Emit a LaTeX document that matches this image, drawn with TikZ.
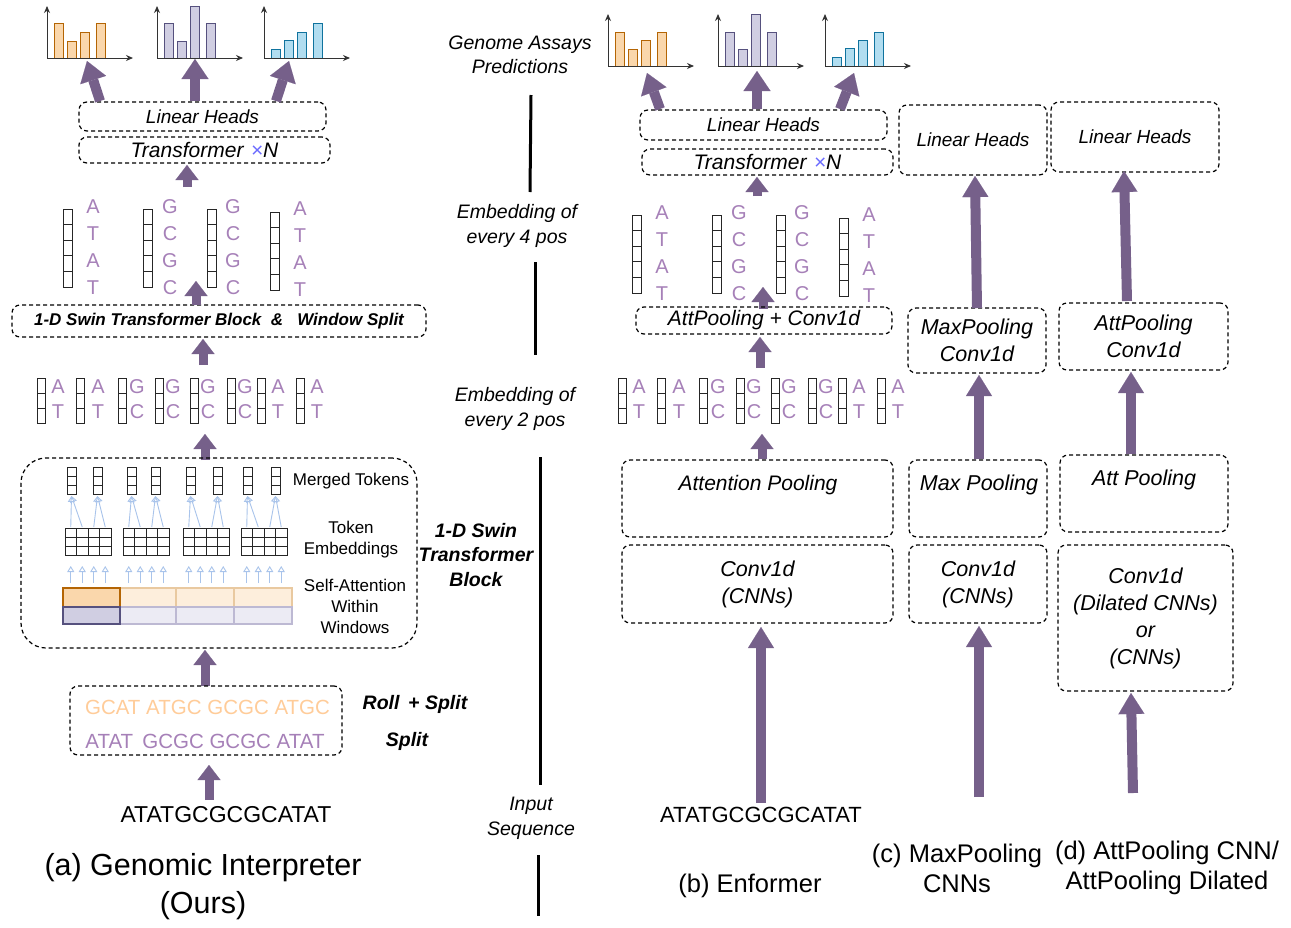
\documentclass[tikz,border=0pt]{standalone}
\usepackage{fontspec}
\setmainfont{Liberation Sans}
\usetikzlibrary{arrows.meta,calc}
\definecolor{ap}{HTML}{76608A}
\definecolor{dna}{HTML}{A680B8}
\definecolor{orf}{HTML}{FAD7AC}
\definecolor{ors}{HTML}{B46504}
\definecolor{orfl}{HTML}{FDEEDC}
\definecolor{orsl}{HTML}{E9C9A0}
\definecolor{puf}{HTML}{D0CEE2}
\definecolor{pus}{HTML}{56517E}
\definecolor{pufl}{HTML}{ECEBF4}
\definecolor{pusl}{HTML}{BDB9D3}
\definecolor{blf}{HTML}{B1DDF0}
\definecolor{bls}{HTML}{10739E}
\definecolor{lblue}{HTML}{A9C4EB}
\definecolor{xblue}{HTML}{6C6CFF}
\definecolor{rollc}{HTML}{FFCC99}
\definecolor{axc}{HTML}{333333}
\newcommand\fz[2]{\fontsize{#1}{#2}\selectfont}
\tikzset{
 dbox/.style={draw=black, dash pattern=on 4pt off 3pt, line width=1.2pt, rounded corners=8pt, inner sep=0pt, align=center},
 fatT/.style={draw=ap, line width=10pt, -{Triangle[width=27pt,length=20pt,line width=0.1pt]}},
 fatS/.style={draw=ap, line width=9pt, -{Triangle[width=23pt,length=15pt,line width=0.1pt]}},
 fatL/.style={draw=ap, line width=10pt, -{Triangle[width=26pt,length=21pt,line width=0.1pt]}},
 axisl/.style={draw=axc, line width=1pt, -{Stealth[length=7pt,width=6pt]}},
 cellc/.style={draw=black!85, line width=0.9pt},
 lb/.style={draw=lblue, line width=0.9pt, -{Triangle[open,width=7pt,length=6pt]}},
 vline/.style={draw=black, line width=3pt},
 dnat/.style={text=dna, font=\fz{20}{20}, inner sep=0pt},
 lbl/.style={align=center, inner sep=0pt},
}
\newcommand\gchart[7]{%
  \begin{scope}[shift={(#1)}]
    \foreach \bx/\bh in {7/#4,20/#5,33/#6,49/#7}
      \draw[fill=#2,draw=#3,line width=1pt] (\bx,0) rectangle ++(9,-\bh);
    \draw[axisl] (0,0) -- (0,-52);
    \draw[axisl] (0,0) -- (86,0);
  \end{scope}}
\newcommand\cellcol[5]{%
  \foreach \k in {1,...,#5}
    \draw[cellc] (#1,{#2+(\k-1)*#4}) rectangle ++(#3,#4);}
\newcommand\embfour[2]{%
 \begin{scope}[shift={(#1)}]
  \cellcol{63}{209}{9}{15.6}{5}
  \cellcol{143}{209}{9}{15.6}{5}
  \cellcol{207}{209}{9}{15.6}{5}
  \cellcol{270}{212}{9}{15.6}{5}
  \foreach \ch [count=\i from 0] in {A,T,A,T}{
    \node[dnat] (#2a\i) at (93,{206.5+26.9*\i}) {\ch};
    \node[dnat] (#2d\i) at (300,{208.5+26.9*\i}) {\ch};}
  \foreach \ch [count=\i from 0] in {G,C,G,C}{
    \node[dnat] (#2b\i) at (170,{206.5+26.9*\i}) {\ch};
    \node[dnat] (#2c\i) at (233,{206.5+26.9*\i}) {\ch};}
 \end{scope}}
\newcommand\embtwo[2]{%
 \begin{scope}[shift={(#1)}]
  \foreach \cx/\lx/\ltop/\lbot [count=\i] in {37/58/A/T,76/98/A/T,118/137/G/C,155/173/G/C,190/208/G/C,227/245/G/C,257/278/A/T,296/317/A/T}{
    \cellcol{\cx}{378}{8}{15}{3}
    \node[dnat] (#2u\i) at (\lx,387) {\ltop};
    \node[dnat] (#2l\i) at (\lx,412) {\lbot};}
 \end{scope}}

\begin{document}
\begin{tikzpicture}[x=1pt,y=-1pt]
\useasboundingbox (0,0) rectangle (1291,927);
\fill[white] (0,0) rectangle (1291,927);

% ================= (a) Genomic Interpreter
\gchart{47,58}{orf}{ors}{35}{17}{26}{35}
\gchart{157,58}{puf}{pus}{35}{17}{52}{35}
\gchart{264,58}{blf}{bls}{9}{18}{26}{35}
\node[dbox,minimum width=247,minimum height=29] (lhA) at (202.5,116.5) {\fz{19}{19}\itshape Linear Heads};
\node[dbox,minimum width=251,minimum height=26] (trA) at (204.5,150) {\fz{21}{21}\itshape Transformer\hspace{0.35em}\textcolor{xblue}{×}N};
\coordinate (a1s) at (100,101); \coordinate (a1e) at (87,61);
\coordinate (a2s) at (195,101); \coordinate (a2e) at (195,59);
\coordinate (a3s) at (276,101); \coordinate (a3e) at (289,61);
\draw[fatT] (a1s) -- (a1e);
\draw[fatT] (a2s) -- (a2e);
\draw[fatT] (a3s) -- (a3e);
\coordinate (a4s) at (187,187); \coordinate (a4e) at (187,165);
\draw[fatS] (a4s) -- (a4e);

\embfour{0,0}{A}
\node[dbox,minimum width=414,minimum height=32] (swA) at (219,321) {\fz{17}{17}\bfseries\itshape 1-D Swin Transformer Block \ \& \ \ Window Split};
\coordinate (a5s) at (196,305); \coordinate (a5e) at (196,281);
\draw[fatS] (a5s) -- (a5e);
\coordinate (a6s) at (203,365); \coordinate (a6e) at (203,339);
\draw[fatS] (a6s) -- (a6e);
\embtwo{0,0}{A}
\coordinate (a7s) at (205,460); \coordinate (a7e) at (205,434);
\draw[fatS] (a7s) -- (a7e);

% big swin block
\node[dbox,rounded corners=25pt,minimum width=396,minimum height=190] (bigA) at (219,553) {};
\foreach \mx in {67,93,127,151,186,213,243,271} {\cellcol{\mx}{467}{9}{9}{3}}
\node[lbl,font=\fz{17}{17}] (mtok) at (351,481) {Merged Tokens};
\foreach \gx in {65,123,183,241}{
  \foreach \j in {0,...,3}{
    \cellcol{\gx+11.5*\j}{528}{11.5}{9}{3}
    \draw[lb] (\gx+11.5*\j+5.75,583) -- (\gx+11.5*\j+5.75,566);}}
\foreach \gx/\ma/\mb in {65/67/93,123/127/151,183/186/213,241/243/271}{
  \draw[lb] (\gx+5.75,527) -- (\ma+4.5,496);
  \draw[lb] (\gx+17.25,527) -- (\ma+4.5,496);
  \draw[lb] (\gx+28.75,527) -- (\mb+4.5,496);
  \draw[lb] (\gx+40.25,527) -- (\mb+4.5,496);}
\node[lbl,font=\fz{17}{21}] (temb) at (351,540) {Token\\Embeddings};
\foreach \wx/\wr in {120/176,176/234,234/292}{
  \draw[fill=orfl,draw=orsl,line width=1.8pt] (\wx,588) rectangle (\wr,607);
  \draw[fill=pufl,draw=pusl,line width=1.8pt] (\wx,607) rectangle (\wr,624);}
\draw[fill=orf,draw=ors,line width=2pt] (63,588) rectangle (120,607);
\draw[fill=puf,draw=pus,line width=2pt] (63,607) rectangle (120,624);
\node[lbl,font=\fz{17}{21}] (sattn) at (355,606) {Self-Attention\\Within\\Windows};

\coordinate (a8s) at (205,686); \coordinate (a8e) at (205,650);
\draw[fatS] (a8s) -- (a8e);
\node[dbox,minimum width=272,minimum height=69] (rsA) at (206,720.5) {};
\node[lbl,text=rollc,font=\fz{20.5}{20.5}] (rollrow) at (207.5,707) {GCAT ATGC GCGC ATGC};
\node[lbl,text=dna,font=\fz{20.5}{20.5}] (splitrow) at (205,741) {ATAT\, GCGC GCGC ATAT};
\node[lbl,font=\fz{19.5}{19.5}\bfseries\itshape] (rolllab) at (415,704) {Roll\,\ + Split};
\node[lbl,font=\fz{19.5}{19.5}\bfseries\itshape] (splitlab) at (407,741) {Split};
\coordinate (a9s) at (209,800); \coordinate (a9e) at (209,765);
\draw[fatS] (a9s) -- (a9e);
\node[lbl,font=\fz{23}{23}] (seqA) at (226,815) {ATATGCGCGCATAT};
\node[lbl,font=\fz{30.5}{38}] (capA) at (203,887) {(a) Genomic Interpreter\\(Ours)};

% ================= middle labels
\node[lbl,font=\fz{19.5}{24}\itshape] (gap) at (520,55) {Genome Assays\\Predictions};
\node[lbl,font=\fz{19.5}{25}\itshape] (emb4) at (517,226) {Embedding of\\every 4 pos};
\node[lbl,font=\fz{19.5}{25}\itshape] (emb2) at (515,409) {Embedding of\\every 2 pos};
\node[lbl,font=\fz{19.5}{25}\itshape] (inseq) at (531,818) {Input\\Sequence};
\coordinate (v1a) at (531,95); \coordinate (v1b) at (530,192);
\coordinate (v2a) at (535,262); \coordinate (v2b) at (535,355);
\coordinate (v3a) at (540,457); \coordinate (v3b) at (540,785);
\coordinate (v4a) at (538,855); \coordinate (v4b) at (538,916);
\draw[vline] (v1a) -- (v1b);
\draw[vline] (v2a) -- (v2b);
\draw[vline] (v3a) -- (v3b);
\draw[vline] (v4a) -- (v4b);
\node[lbl,font=\fz{19.5}{24.5}\bfseries\itshape] (swlab) at (476,555) {1-D Swin\\Transformer\\Block};

% ================= (b) Enformer
\gchart{608,66}{orf}{ors}{34}{17}{26}{34}
\gchart{718,66}{puf}{pus}{34}{17}{52}{34}
\gchart{825,66}{blf}{bls}{9}{18}{26}{34}
\node[dbox,minimum width=247,minimum height=30] (lhB) at (763.5,125) {\fz{19}{19}\itshape Linear Heads};
\node[dbox,minimum width=251,minimum height=26] (trB) at (767.5,162) {\fz{21}{21}\itshape Transformer\hspace{0.35em}\textcolor{xblue}{×}N};
\coordinate (b1s) at (660,109); \coordinate (b1e) at (647,73);
\coordinate (b2s) at (757,109); \coordinate (b2e) at (757,71);
\coordinate (b3s) at (840,109); \coordinate (b3e) at (854,73);
\draw[fatT] (b1s) -- (b1e);
\draw[fatT] (b2s) -- (b2e);
\draw[fatT] (b3s) -- (b3e);
\coordinate (b4s) at (757,196); \coordinate (b4e) at (757,177);
\draw[fatS] (b4s) -- (b4e);
\embfour{569,6}{B}
\coordinate (b5s) at (763,309); \coordinate (b5e) at (763,287);
\draw[fatS] (b5s) -- (b5e);
\node[dbox,minimum width=256,minimum height=27] (apB) at (764,320.5) {\fz{21}{21}\itshape AttPooling + Conv1d};
\coordinate (b6s) at (760,368); \coordinate (b6e) at (760,337);
\draw[fatS] (b6s) -- (b6e);
\embtwo{581,0}{B}
\coordinate (b7s) at (762,459); \coordinate (b7e) at (762,434);
\draw[fatS] (b7s) -- (b7e);
\node[dbox,minimum width=271,minimum height=77] (attB) at (757.5,498.5) {};
\node[lbl,font=\fz{21}{21}\itshape] (attBt) at (758,485) {Attention Pooling};
\node[dbox,minimum width=271,minimum height=78,font=\fz{21.5}{27}\itshape] (convB) at (757.5,584) {Conv1d\\(CNNs)};
\coordinate (b8s) at (761,803); \coordinate (b8e) at (761,627);
\draw[fatL] (b8s) -- (b8e);
\node[lbl,font=\fz{22}{22}] (seqB) at (761,815) {ATATGCGCGCATAT};
\node[lbl,font=\fz{25.5}{30}] (capB) at (750,886) {(b) Enformer};

% ================= (c) MaxPooling CNNs
\node[dbox,minimum width=148,minimum height=70] (lhC) at (973,140) {\fz{19}{19}\itshape Linear Heads};
\node[dbox,minimum width=138,minimum height=65,font=\fz{21.5}{27}\itshape] (mpcC) at (977,340.5) {MaxPooling\\Conv1d};
\coordinate (c1s) at (977,308); \coordinate (c1e) at (975,176);
\draw[fatL] (c1s) -- (c1e);
\coordinate (c2s) at (979,459); \coordinate (c2e) at (979,375);
\draw[fatL] (c2s) -- (c2e);
\node[dbox,minimum width=138,minimum height=77] (mpC) at (978,498.5) {};
\node[lbl,font=\fz{21.5}{21.5}\itshape] (mpCt) at (979,485) {Max Pooling};
\node[dbox,minimum width=138,minimum height=78,font=\fz{21.5}{27}\itshape] (convC) at (978,584) {Conv1d\\(CNNs)};
\coordinate (c3s) at (979,797); \coordinate (c3e) at (979,626);
\draw[fatL] (c3s) -- (c3e);
\node[lbl,font=\fz{25.5}{30}] (capC) at (957,868) {(c) MaxPooling\\CNNs};

% ================= (d) AttPooling CNN / Dilated
\node[dbox,minimum width=168,minimum height=70] (lhD) at (1135,137) {\fz{19}{19}\itshape Linear Heads};
\node[dbox,minimum width=169,minimum height=67,font=\fz{21.5}{27}\itshape] (apcD) at (1143.5,336.5) {AttPooling\\Conv1d};
\coordinate (d1s) at (1127,301); \coordinate (d1e) at (1124,171);
\draw[fatL] (d1s) -- (d1e);
\coordinate (d2s) at (1131,454); \coordinate (d2e) at (1131,372);
\draw[fatL] (d2s) -- (d2e);
\node[dbox,minimum width=168,minimum height=77] (attD) at (1144,493.5) {};
\node[lbl,font=\fz{21.5}{21.5}\itshape] (attDt) at (1144,480) {Att Pooling};
\node[dbox,minimum width=175,minimum height=146,font=\fz{21.5}{27}\itshape] (convD) at (1145.5,618) {Conv1d\\(Dilated CNNs)\\or\\(CNNs)};
\coordinate (d3s) at (1133,793); \coordinate (d3e) at (1131,693);
\draw[fatL] (d3s) -- (d3e);
\node[lbl,font=\fz{25.5}{30}] (capD) at (1167,868) {(d) AttPooling CNN/\\AttPooling Dilated};
\end{tikzpicture}
\end{document}
